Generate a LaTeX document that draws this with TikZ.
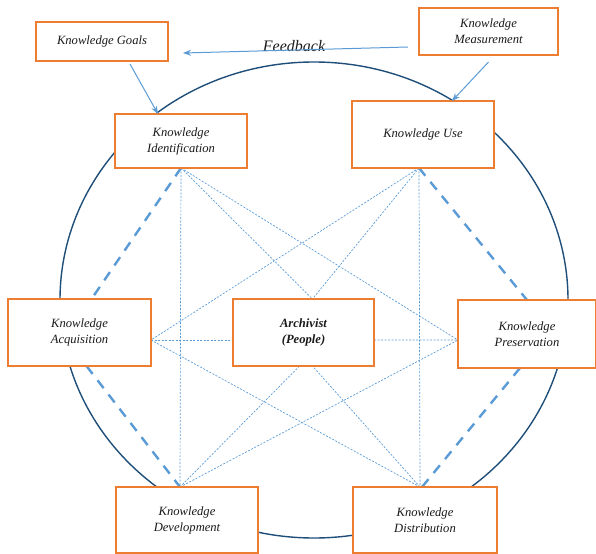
\documentclass[tikz,border=0pt]{standalone}
\usepackage{fontspec}
\setmainfont{Liberation Serif}
\usetikzlibrary{arrows.meta,calc}
\definecolor{boxorange}{HTML}{ED7D31}
\definecolor{navy}{HTML}{1F4E79}
\definecolor{lblue}{HTML}{5B9BD5}
\definecolor{txt}{HTML}{1A1A1A}
\tikzset{
  kbox/.style={draw=boxorange, line width=1.3bp, fill=white, inner sep=0pt, outer sep=0pt,
    align=center, text=txt, font=\fontsize{12.6bp}{16bp}\selectfont\itshape},
  thin/.style={draw=lblue, line width=0.7bp, dash pattern=on 2bp off 1.5bp},
  thick/.style={draw=lblue, line width=2.4bp, dash pattern=on 10bp off 8bp},
  arr/.style={draw=lblue, line width=1bp, -{Stealth[length=8bp,width=6bp]}},
}
\begin{document}
\begin{tikzpicture}[x=1bp,y=-1bp]
\useasboundingbox (0,0) rectangle (596,554);
% big cycle
\draw[navy, line width=1.4bp] (314,300) ellipse [x radius=254, y radius=238];
% boxes (drawn as nodes; will be redrawn on top)
\path
 (102,41.5) node[kbox, minimum width=132bp, minimum height=39bp] (goals) {Knowledge Goals}
 (488.5,31.5) node[kbox, minimum width=139bp, minimum height=47bp] (meas) {Knowledge\\Measurement}
 (181,141) node[kbox, minimum width=132bp, minimum height=54bp] (ident) {Knowledge\\Identification}
 (423,134.5) node[kbox, minimum width=142bp, minimum height=67bp] (use) {Knowledge Use}
 (79.5,332.5) node[kbox, minimum width=143bp, minimum height=67bp] (acq) {Knowledge\\Acquisition}
 (303.5,332.5) node[kbox, minimum width=141bp, minimum height=67bp] (arch) {\bfseries Archivist\\\bfseries (People)}
 (527,334) node[kbox, minimum width=138bp, minimum height=68bp] (pres) {Knowledge\\Preservation}
 (187,520) node[kbox, minimum width=142bp, minimum height=66bp] (dev) {Knowledge\\Development}
 (425,520) node[kbox, minimum width=144bp, minimum height=66bp] (dist) {Knowledge\\Distribution};
% vertices
\coordinate (vI) at (ident.south);
\coordinate (vU) at ([xshift=-4bp]use.south);
\coordinate (vA) at ([yshift=-7.5bp]acq.east);
\coordinate (vP) at ([yshift=-6bp]pres.west);
\coordinate (vD) at ([xshift=-7bp]dev.north);
\coordinate (vS) at ([xshift=-5bp]dist.north);
\coordinate (aT) at ([xshift=9bp]arch.north);
\coordinate (aBL) at ([xshift=-4bp]arch.south);
\coordinate (aBR) at ([xshift=9bp]arch.south);
\coordinate (aW) at ([yshift=-7.5bp]arch.west);
\coordinate (aE) at ([yshift=-7.5bp]arch.east);
% thin dotted web
\draw[thin] (vI) -- (vD);
\draw[thin] (vU) -- (vS);
\draw[thin] (vA) -- (aW);
\draw[thin] (aE) -- (vP);
\draw[thin] (vI) -- (aT);
\draw[thin] (vU) -- (aT);
\draw[thin] (vI) -- (vP);
\draw[thin] (vU) -- (vA);
\draw[thin] (vD) -- (aBL);
\draw[thin] (vS) -- (aBR);
\draw[thin] (vD) -- (vP);
\draw[thin] (vS) -- (vA);
% thick dashed ring links
\draw[thick] (vI) -- ([xshift=12bp]acq.north);
\draw[thick] (vU) -- (pres.north);
\draw[thick] ([xshift=7bp]acq.south) -- (vD);
\draw[thick] ([xshift=-7bp]pres.south) -- ([xshift=-3bp]dist.north);
% redraw boxes on top
\path
 (102,41.5) node[kbox, minimum width=132bp, minimum height=39bp] {Knowledge Goals}
 (488.5,31.5) node[kbox, minimum width=139bp, minimum height=47bp] {Knowledge\\Measurement}
 (181,141) node[kbox, minimum width=132bp, minimum height=54bp] {Knowledge\\Identification}
 (423,134.5) node[kbox, minimum width=142bp, minimum height=67bp] {Knowledge Use}
 (79.5,332.5) node[kbox, minimum width=143bp, minimum height=67bp] {Knowledge\\Acquisition}
 (303.5,332.5) node[kbox, minimum width=141bp, minimum height=67bp] {\bfseries Archivist\\\bfseries (People)}
 (527,334) node[kbox, minimum width=138bp, minimum height=68bp] {Knowledge\\Preservation}
 (187,520) node[kbox, minimum width=142bp, minimum height=66bp] {Knowledge\\Development}
 (425,520) node[kbox, minimum width=144bp, minimum height=66bp] {Knowledge\\Distribution};
% arrows
\draw[arr] ([xshift=28bp,yshift=-3bp]goals.south) -- ([xshift=-23bp]ident.north);
\draw[arr] ([yshift=-7bp]meas.south) -- ([xshift=29bp]use.north);
\node[anchor=base, text=txt, font=\fontsize{16bp}{18bp}\selectfont\itshape, inner sep=0pt] (fb) at (294,51.5) {Feedback};
\draw[arr] ([xshift=-11bp,yshift=-15.5bp]meas.west) -- ([xshift=15bp,yshift=-11.5bp]goals.east);
\end{tikzpicture}
\end{document}
